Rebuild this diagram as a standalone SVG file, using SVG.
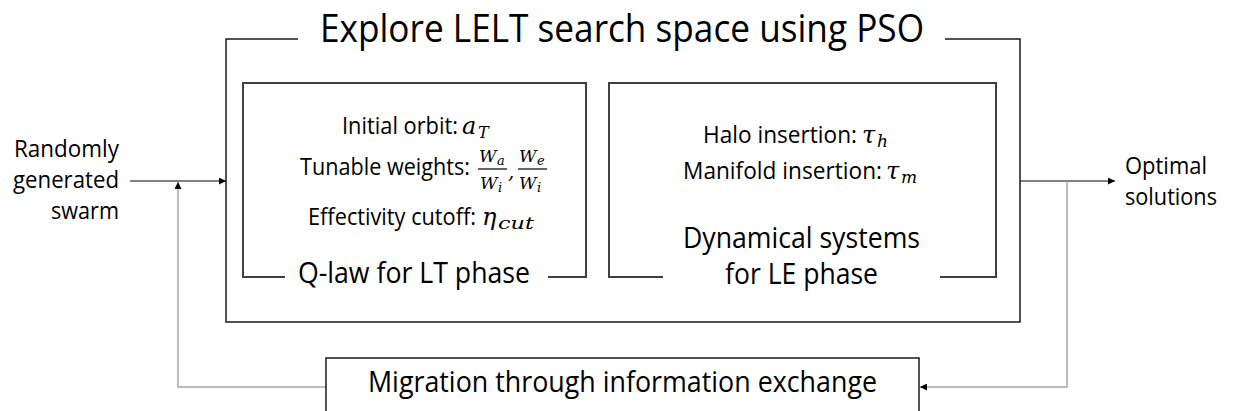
<svg xmlns="http://www.w3.org/2000/svg" width="1233" height="411" viewBox="0 0 1233 411">
  <style>
    .t { font-family: "Open Sans", "Liberation Sans", sans-serif; fill: #000; }
    .big { font-size: 38px; }
    .mid { font-size: 29px; }
    .sm { font-size: 23.5px; }
    .lbl { font-size: 24.5px; }
    .m { font-family: "DejaVu Serif", "Liberation Serif", serif; font-style: italic; fill: #000; }
    .outer { fill: none; stroke: #1a1a1a; stroke-width: 1.5; }
    .inner { fill: none; stroke: #404040; stroke-width: 2; }
    .box { fill: #fff; stroke: #1a1a1a; stroke-width: 1.5; }
    .conn { fill: none; stroke: #000; stroke-width: 1; }
    .fb { fill: none; stroke: #a6a6a6; stroke-width: 1.5; }
    .bar { stroke: #000; stroke-width: 1.2; }
  </style>
  <defs>
    <marker id="arrow" viewBox="0 0 10 10" refX="10" refY="5" markerWidth="8" markerHeight="7" markerUnits="userSpaceOnUse" orient="auto">
      <path d="M0,0 L10,5 L0,10 z" fill="#000"/>
    </marker>
  </defs>

  <g id="connectors">
    <line class="conn" x1="130" y1="181" x2="226" y2="181" marker-end="url(#arrow)"/>
    <polyline class="fb" points="326,387 178,387 178,182" marker-end="url(#arrow)"/>
    <line class="conn" x1="1020" y1="181" x2="1115" y2="181" marker-end="url(#arrow)"/>
    <polyline class="fb" points="1067,181 1067,387 920,387" marker-end="url(#arrow)"/>
  </g>

  <g id="pso">
    <path class="outer" d="M298,39 H226 V322 H1020 V39 H945"/>
    <text class="t big" x="320" y="42" textLength="604" lengthAdjust="spacingAndGlyphs">Explore LELT search space using PSO</text>
  </g>

  <g id="qlaw">
    <path class="inner" d="M285,277 H243 V83 H586 V277 H548"/>
    <line class="bar" x1="478" y1="169" x2="507" y2="169"/>
    <line class="bar" x1="518" y1="169" x2="547" y2="169"/>
    <text class="t sm" x="342" y="134"><tspan textLength="116" lengthAdjust="spacingAndGlyphs">Initial orbit:</tspan><tspan class="m" x="462" font-size="24">a</tspan><tspan class="m" x="478" y="138" font-size="16">T</tspan></text>
    <text class="t sm" x="300" y="175"><tspan textLength="170" lengthAdjust="spacingAndGlyphs">Tunable weights:</tspan><tspan class="m" x="479" y="162" font-size="17">W</tspan><tspan class="m" x="497" y="165" font-size="13">a</tspan><tspan class="m" x="480" y="189" font-size="17">W</tspan><tspan class="m" x="498" y="192" font-size="13">i</tspan><tspan class="m" x="508" y="178" font-size="20">,</tspan><tspan class="m" x="519" y="162" font-size="17">W</tspan><tspan class="m" x="537" y="165" font-size="13">e</tspan><tspan class="m" x="519" y="189" font-size="17">W</tspan><tspan class="m" x="537" y="192" font-size="13">i</tspan></text>
    <text class="t sm" x="308" y="225"><tspan textLength="168" lengthAdjust="spacingAndGlyphs">Effectivity cutoff:</tspan><tspan class="m" x="482" font-size="24">η</tspan><tspan class="m" x="498" y="229" font-size="17" textLength="36" lengthAdjust="spacingAndGlyphs">cut</tspan></text>
    <text class="t mid" x="298" y="283" textLength="232" lengthAdjust="spacingAndGlyphs">Q-law for LT phase</text>
  </g>

  <g id="dynsys">
    <path class="inner" d="M663,277 H609 V83 H996 V277 H940"/>
    <text class="t sm" x="703" y="143"><tspan textLength="154" lengthAdjust="spacingAndGlyphs">Halo insertion:</tspan><tspan class="m" x="862" font-size="24">τ</tspan><tspan class="m" x="877" y="147" font-size="17">h</tspan></text>
    <text class="t sm" x="683" y="179"><tspan textLength="199" lengthAdjust="spacingAndGlyphs">Manifold insertion:</tspan><tspan class="m" x="886" font-size="24">τ</tspan><tspan class="m" x="901" y="183" font-size="17">m</tspan></text>
    <text class="t mid" x="683" y="248" textLength="237" lengthAdjust="spacingAndGlyphs">Dynamical systems</text>
    <text class="t mid" x="725" y="284" textLength="153" lengthAdjust="spacingAndGlyphs">for LE phase</text>
  </g>

  <g id="migration">
    <rect class="box" x="326" y="358" width="593" height="70"/>
    <text class="t mid" x="368" y="392" textLength="509" lengthAdjust="spacingAndGlyphs">Migration through information exchange</text>
  </g>

  <g id="input">
    <text class="t lbl" x="119" y="157" text-anchor="end" textLength="105" lengthAdjust="spacingAndGlyphs">Randomly</text>
    <text class="t lbl" x="119" y="188" text-anchor="end" textLength="106" lengthAdjust="spacingAndGlyphs">generated</text>
    <text class="t lbl" x="119" y="219" text-anchor="end" textLength="68" lengthAdjust="spacingAndGlyphs">swarm</text>
  </g>

  <g id="output">
    <text class="t lbl" x="1125" y="174" textLength="82" lengthAdjust="spacingAndGlyphs">Optimal</text>
    <text class="t lbl" x="1125" y="205" textLength="92" lengthAdjust="spacingAndGlyphs">solutions</text>
  </g>
</svg>
